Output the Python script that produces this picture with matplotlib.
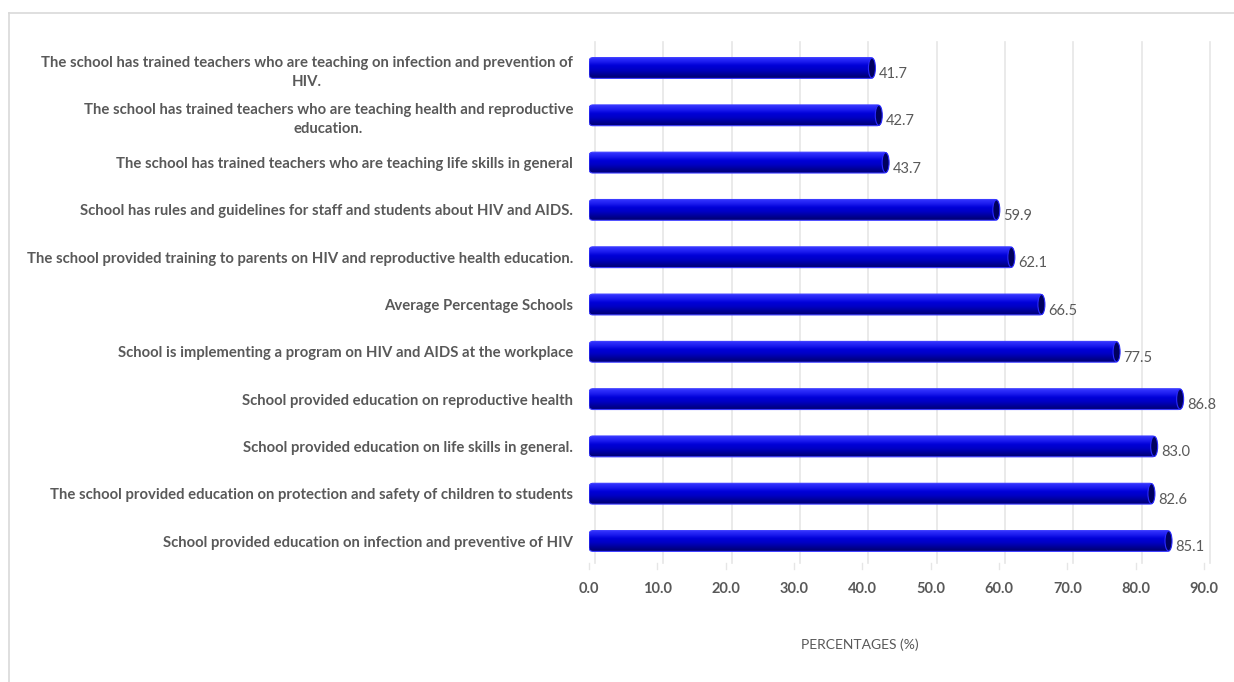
import numpy as np
import matplotlib
matplotlib.use("Agg")
import matplotlib.pyplot as plt
from matplotlib.patches import FancyBboxPatch, Ellipse
from matplotlib.colors import LinearSegmentedColormap
from matplotlib.lines import Line2D
import matplotlib.transforms as mtransforms

# Data (top to bottom as shown in the chart)
labels = [
    "The school has trained teachers who are teaching on infection and prevention of\nHIV.",
    "The school has trained teachers who are teaching health and reproductive\neducation.",
    "The school has trained teachers who are teaching life skills in general",
    "School has rules and guidelines for staff and students about HIV and AIDS.",
    "The school provided training to parents on HIV and reproductive health education.",
    "Average Percentage Schools",
    "School is implementing a program on HIV and AIDS at the workplace",
    "School provided education on reproductive health",
    "School provided education on life skills in general.",
    "The school provided education on protection and safety of children to students",
    "School provided education on infection and preventive of HIV",
]
values = [41.7, 42.7, 43.7, 59.9, 62.1, 66.5, 77.5, 86.8, 83.0, 82.6, 85.1]
xticks = [0, 10, 20, 30, 40, 50, 60, 70, 80, 90]

GRAY = "#595959"
plt.rcParams["font.family"] = ["Lato", "DejaVu Sans"]

W, H = 1234, 682
fig = plt.figure(figsize=(W / 100, H / 100), dpi=100)
ax = fig.add_axes([589 / W, 1 - 563 / H, (1204 - 589) / W, (563 - 42) / H])

n = len(values)
ypos = np.arange(n)[::-1]
bar_h = 0.44
ax.set_xlim(0, 90)
ax.set_ylim(-0.465, n - 1 + 0.55)

# px per data unit, used to keep the rounded ends round
px_x = (1204 - 589) / 90
px_y = (563 - 42) / (n - 1 + 0.55 + 0.465)

cmap = LinearSegmentedColormap.from_list(
    "cyl", ["#000070", "#00009a", "#0000c4", "#0000d8", "#1e1ef0", "#3636ff"])
grad = np.linspace(0, 1, 64).reshape(-1, 1)

for y, v in zip(ypos, values):
    r = 4 / px_x
    box = FancyBboxPatch((0, y - bar_h / 2), v, bar_h,
                         boxstyle=f"round,pad=0,rounding_size={r}",
                         mutation_aspect=px_x / px_y,
                         facecolor="none", edgecolor="#3b3bff", lw=0.8, zorder=3)
    ax.add_patch(box)
    im = ax.imshow(grad, extent=(0, v, y - bar_h / 2, y + bar_h / 2),
                   origin="lower", cmap=cmap, aspect="auto", zorder=2,
                   interpolation="bilinear")
    im.set_clip_path(box)
    cap = Ellipse((v - 2 / px_x, y), 7 / px_x, bar_h * 0.96,
                  facecolor="#00005e", edgecolor="#2a2aff", lw=0.8, zorder=4)
    ax.add_patch(cap)
    ax.annotate(f"{v:.1f}", xy=(v, y), xytext=(5, -6), textcoords="offset pixels",
                ha="left", va="center", fontsize=10.5, color=GRAY)

# back-wall gridlines, shifted a little to the right, with floor ticks
shift = mtransforms.ScaledTranslation(6 / 100, 0, fig.dpi_scale_trans)
blend = mtransforms.blended_transform_factory(ax.transData, ax.transAxes)
for xv in xticks:
    ax.plot([xv, xv], [0, 1], color="#e6e6e6", lw=1.2, zorder=1,
            transform=blend + shift, clip_on=False)
    ax.plot([xv, xv], [0, -0.012], color="#e6e6e6", lw=1.0, zorder=1,
            transform=blend, clip_on=False)

ax.set_xticks(xticks)
ax.set_xticklabels([f"{x:.1f}" for x in xticks], fontsize=10.5, fontweight="bold", color=GRAY)
ax.set_yticks(ypos)
ax.set_yticklabels(labels, fontsize=10.7, fontweight="bold", color=GRAY, linespacing=1.5)
down = mtransforms.ScaledTranslation(0, -3 / 100, fig.dpi_scale_trans)
for t in ax.get_yticklabels():
    t.set_multialignment("center")
    t.set_transform(t.get_transform() + down)
ax.tick_params(axis="x", length=0, pad=14)
ax.tick_params(axis="y", length=0, pad=11.5)
for s in ax.spines.values():
    s.set_visible(False)

fig.text(860 / W, 1 - 645 / H, "PERCENTAGES (%)", ha="center", va="center",
         fontsize=10, color=GRAY)

# chart area border (top and left edges visible)
fig.add_artist(Line2D([9 / W, 1], [1 - 13 / H, 1 - 13 / H], color="#d9d9d9", lw=1.2))
fig.add_artist(Line2D([9 / W, 9 / W], [0, 1 - 13 / H], color="#d9d9d9", lw=1.2))

fig.savefig("out.png", dpi=100)
